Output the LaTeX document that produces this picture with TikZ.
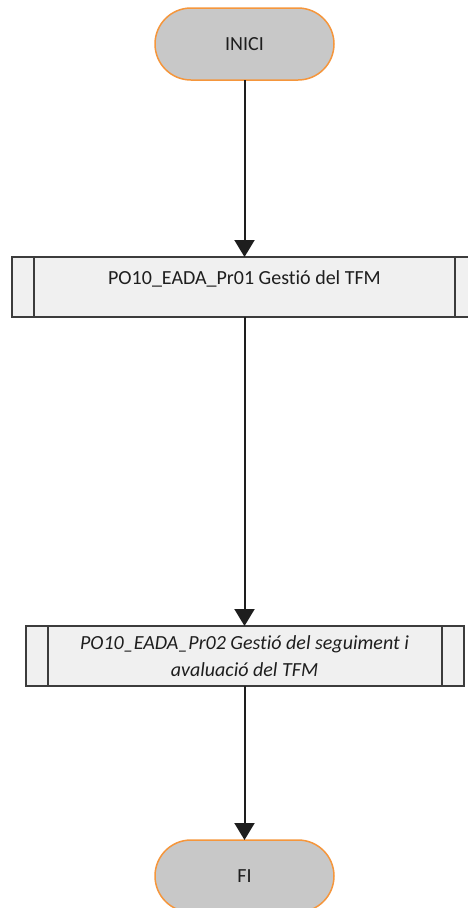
\documentclass[tikz,border=0pt]{standalone}
\usepackage{fontspec}
\setmainfont{Carlito}[Ligatures=NoCommon]
\usetikzlibrary{arrows.meta,positioning}
\definecolor{ink}{RGB}{30,30,30}
\definecolor{frame}{RGB}{60,60,60}
\definecolor{termfill}{RGB}{200,200,200}
\definecolor{termline}{RGB}{245,150,60}
\definecolor{procfill}{RGB}{240,240,240}

\begin{document}
\begin{tikzpicture}[
  x=1pt, y=-1pt,
  every node/.style={font=\fontsize{20}{27}\selectfont, text=ink, outer sep=0pt},
  term/.style={draw=termline, line width=1.5pt, rounded corners=36pt, fill=termfill, minimum width=179pt, minimum height=72pt},
  proc/.style={draw=frame, line width=2pt, fill=procfill, minimum height=60pt, align=center,
    path picture={
      \draw[frame, line width=2pt] ([xshift=22pt]path picture bounding box.north west) -- ([xshift=22pt]path picture bounding box.south west);
      \draw[frame, line width=2pt] ([xshift=-22pt]path picture bounding box.north east) -- ([xshift=-22pt]path picture bounding box.south east);
    }},
  flow/.style={-{Triangle[length=17pt, width=20pt]}, ink, line width=2pt}
]
\useasboundingbox (0,0) rectangle (467,908);

\node[term] (inici) at (244.5,44) {INICI};
\node[proc, minimum width=465pt, text height=14pt, text depth=20pt, below=177pt of inici] (pr01) {PO10\_EADA\_Pr01 Gestió del TFM};
\node[proc, minimum width=438pt, below=309pt of pr01, font=\fontsize{20}{27}\selectfont\itshape] (pr02) {PO10\_EADA\_Pr02 Gestió del seguiment i\\ avaluació del TFM};
\node[term, below=154pt of pr02] (fi) {FI};

\draw[flow] (inici) -- (pr01);
\draw[flow] (pr01) -- (pr02);
\draw[flow] (pr02) -- (fi);
\end{tikzpicture}
\end{document}
